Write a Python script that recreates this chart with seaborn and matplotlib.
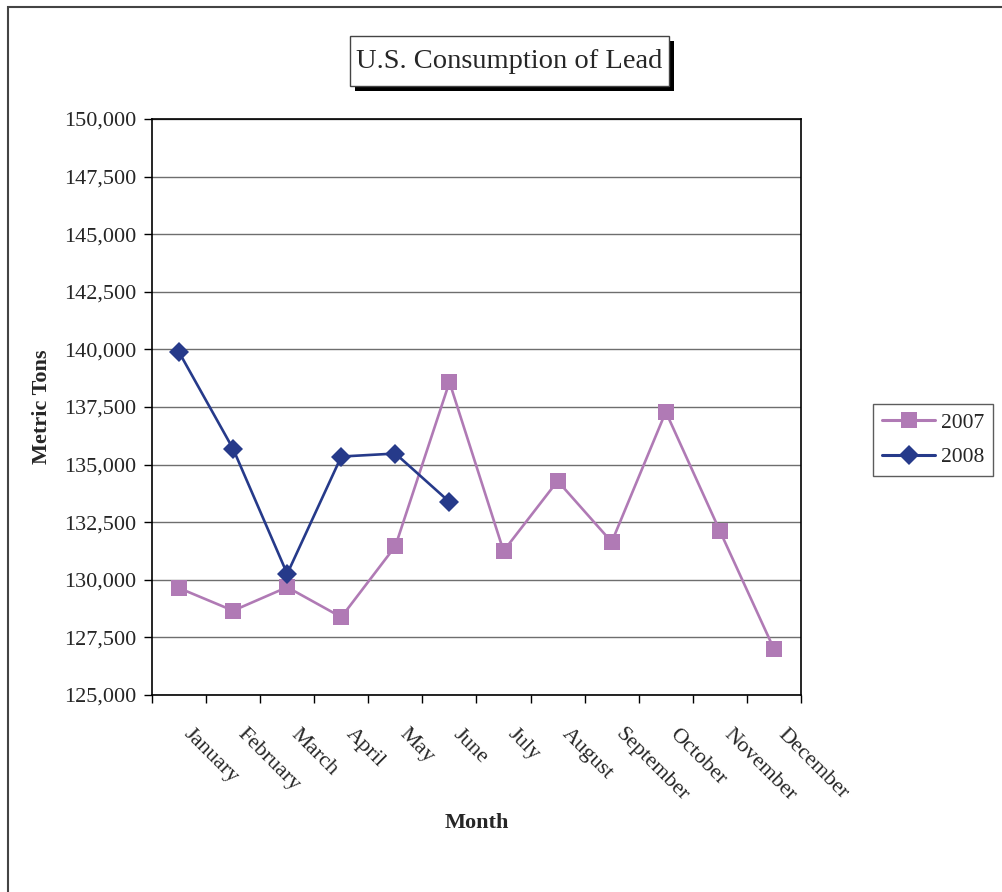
import matplotlib
matplotlib.use("Agg")
import matplotlib.pyplot as plt
import matplotlib.ticker as mticker
from matplotlib.patches import Rectangle
import seaborn as sns
import pandas as pd

# Data
months = ['January', 'February', 'March', 'April', 'May', 'June', 'July',
          'August', 'September', 'October', 'November', 'December']
values_2007 = [129640, 128660, 129680, 128380, 131460, 138580, 131250,
               134290, 131640, 137290, 132120, 127000]
values_2008 = [139880, 135680, 130260, 135350, 135480, 133380]
years = ['2007', '2008']

df = pd.concat([
    pd.DataFrame({'Month': months, 'pos': range(len(months)),
                  'Tons': values_2007, 'Year': years[0]}),
    pd.DataFrame({'Month': months[:len(values_2008)], 'pos': range(len(values_2008)),
                  'Tons': values_2008, 'Year': years[1]}),
])

sns.set_theme(style="white")
plt.rcParams['font.family'] = ['Liberation Serif', 'DejaVu Serif']

W, H = 1003, 892
fig = plt.figure(figsize=(W / 100, H / 100), dpi=100)
ax = fig.add_axes([152 / W, 1 - 695 / H, (801 - 152) / W, (695 - 119) / H])

palette = {'2007': '#B07AB5', '2008': '#263A8A'}
sns.lineplot(data=df, x='pos', y='Tons', hue='Year', style='Year',
             markers={'2007': 's', '2008': 'D'}, dashes=False, palette=palette,
             linewidth=1.9, markersize=10, markeredgewidth=0, ax=ax)

for line in ax.get_lines():
    if line.get_marker() == 's':
        line.set_markersize(11)
    elif line.get_marker() == 'D':
        line.set_markersize(10)

ax.set_xlim(-0.5, len(months) - 0.5)
ax.set_ylim(125000, 150000)
ax.yaxis.set_major_locator(mticker.MultipleLocator(2500))
ax.yaxis.set_major_formatter(mticker.StrMethodFormatter('{x:,.0f}'))
ax.grid(axis='y', color='#6e6e6e', linewidth=1)
ax.set_axisbelow(True)

# ticks at category boundaries, labels at centres
ax.set_xticks([i - 0.5 for i in range(len(months) + 1)])
ax.set_xticklabels([])
ax.set_xticks(range(len(months)), minor=True)
ax.set_xticklabels(months, minor=True, rotation=-45, ha='left', va='bottom',
                   rotation_mode='anchor', fontsize=16)
ax.tick_params(axis='x', which='minor', length=0, pad=31)
ax.tick_params(axis='x', which='major', direction='out', length=6, width=1, color='black', bottom=True)
ax.tick_params(axis='y', direction='out', length=6, width=1, color='black', left=True, labelsize=16, pad=5)

for s in ax.spines.values():
    s.set_color('black')
    s.set_linewidth(1.2)

ax.set_xlabel('Month', fontsize=16, fontweight='bold', va='center')
ax.set_ylabel('Metric Tons', fontsize=16, fontweight='bold', va='center')
ax.xaxis.set_label_coords(477 / W, 1 - 823 / H, transform=fig.transFigure)
ax.yaxis.set_label_coords(42 / W, 1 - 407 / H, transform=fig.transFigure)

handles, labels = ax.get_legend_handles_labels()
for h in handles:
    h.set_linewidth(2.2)
    if h.get_marker() == 's':
        h.set_markersize(11)
    else:
        h.set_markersize(10)
leg = ax.legend(handles, labels, loc='center left', bbox_to_anchor=(873 / W, 1 - 440 / H),
                bbox_transform=fig.transFigure, frameon=True, fancybox=False, fontsize=15.5,
                edgecolor='#333333', handlelength=2.5, borderpad=0.4, labelspacing=0.65,
                handletextpad=0.25, borderaxespad=0)
leg.get_frame().set_linewidth(1)

# title box with shadow
fig.patches.append(Rectangle((355 / W, 1 - 91 / H), 319 / W, 50 / H,
                             transform=fig.transFigure, facecolor='black', edgecolor='none'))
fig.patches.append(Rectangle((350 / W, 1 - 86 / H), 319 / W, 50 / H,
                             transform=fig.transFigure, facecolor='white', edgecolor='#444444',
                             linewidth=1))
fig.text(509 / W, 1 - 61 / H, 'U.S. Consumption of Lead', fontsize=20.5, ha='center', va='center')

# outer frame, cut off at right and bottom like the reference
fig.patches.append(Rectangle((8 / W, -0.05), 1.1, 1 - 7 / H + 0.05, transform=fig.transFigure,
                             facecolor='none', edgecolor='#444444', linewidth=1.5))

fig.savefig('out.png', dpi=100)
